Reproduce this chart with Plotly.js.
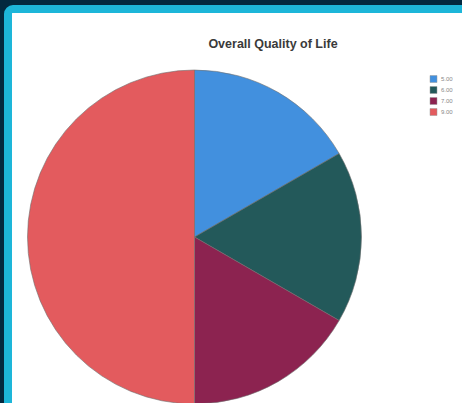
<!DOCTYPE html>
<html>
<head>
<meta charset="utf-8">
<script src="https://cdn.plot.ly/plotly-3.0.1.min.js"></script>
<style>
  html, body { margin: 0; padding: 0; width: 462px; height: 403px; overflow: hidden; background: #03293f; }
  #frame { position: absolute; left: 4px; top: 5px; width: 480px; height: 420px; border: 8px solid #1db6d9; border-radius: 9px; background: #ffffff; overflow: hidden; }
  #chart { position: absolute; left: 0; top: 0; width: 450px; height: 391px; }
</style>
</head>
<body>
<div id="frame"><div id="chart"></div></div>
<script>
const categories = ["5.00", "6.00", "7.00", "9.00"];
const values = [1, 1, 1, 3];
const colors = ["#4290de", "#23595a", "#8c2350", "#e35b5e"];
const chartTitle = "Overall Quality of Life";

const W = 450, H = 391;
// custom compact legend built from the arrays
const shapes = [], annotations = [];
const legX = 418, legY0 = 66, legStep = 11, sq = 7;
categories.forEach((c, i) => {
  const cy = legY0 + i * legStep;
  shapes.push({
    type: "rect", xref: "paper", yref: "paper",
    x0: legX / W, x1: (legX + sq) / W,
    y0: 1 - (cy + sq / 2) / H, y1: 1 - (cy - sq / 2) / H,
    fillcolor: colors[i], line: { color: "#9a9a9a", width: 0.5 }
  });
  annotations.push({
    xref: "paper", yref: "paper", x: (legX + sq + 2) / W, y: 1 - cy / H,
    xanchor: "left", yanchor: "middle", showarrow: false,
    text: c, font: { family: "Liberation Sans, Arial, sans-serif", size: 6, color: "#888888" }
  });
});

const cx = 182.5, cyc = 224, r = 167;
const data = [{
  type: "pie",
  labels: categories,
  values: values,
  sort: false,
  direction: "clockwise",
  rotation: 0,
  textinfo: "none",
  hoverinfo: "label+value",
  marker: { colors: colors, line: { color: "#6f6f6f", width: 0.6 } },
  domain: { x: [(cx - r) / W, (cx + r) / W], y: [1 - (cyc + r) / H, 1 - (cyc - r) / H] },
  showlegend: false
}];

const layout = {
  width: W, height: H,
  margin: { l: 0, r: 0, t: 0, b: 0 },
  paper_bgcolor: "#ffffff",
  title: {
    text: "<b>" + chartTitle + "</b>",
    x: 261 / W, xanchor: "center", xref: "paper",
    y: 1 - 31 / H, yanchor: "middle", yref: "paper",
    font: { family: "Liberation Sans, Arial, sans-serif", size: 12.5, color: "#3a3a3a" }
  },
  showlegend: false,
  shapes: shapes,
  annotations: annotations
};

Plotly.newPlot("chart", data, layout, { displayModeBar: false, staticPlot: true });
</script>
</body>
</html>
